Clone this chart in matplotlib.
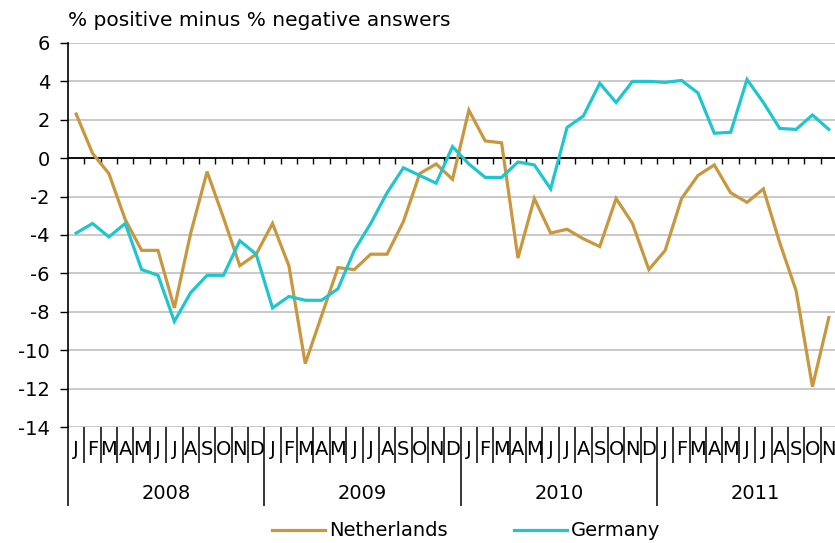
import matplotlib.pyplot as plt

plt.rcParams['font.family'] = ['DejaVu Sans']
plt.rcParams['axes.unicode_minus'] = False

months = ["J", "F", "M", "A", "M", "J", "J", "A", "S", "O", "N", "D"]
years = ["2008", "2009", "2010", "2011"]
n_months = 47  # Jan 2008 .. Nov 2011

netherlands = [2.3, 0.25, -0.8, -3.2, -4.8, -4.8, -7.8, -3.9, -0.7, -3.1, -5.6, -5.0,
               -3.4, -5.6, -10.7, -8.2, -5.7, -5.8, -5.0, -5.0, -3.3, -0.8, -0.3, -1.1,
               2.5, 0.9, 0.8, -5.2, -2.1, -3.9, -3.7, -4.2, -4.6, -2.1, -3.4, -5.8,
               -4.8, -2.1, -0.9, -0.35, -1.8, -2.3, -1.6, -4.4, -6.9, -11.9, -8.3]
germany = [-3.9, -3.4, -4.1, -3.4, -5.8, -6.1, -8.5, -7.0, -6.1, -6.1, -4.3, -5.0,
           -7.8, -7.2, -7.4, -7.4, -6.8, -4.8, -3.4, -1.8, -0.5, -0.9, -1.3, 0.6,
           -0.3, -1.0, -1.0, -0.2, -0.35, -1.6, 1.6, 2.2, 3.9, 2.9, 4.0, 4.0,
           3.95, 4.05, 3.4, 1.3, 1.35, 4.1, 2.9, 1.55, 1.5, 2.25, 1.5]

nl_color = '#c9973e'
de_color = '#1fc6d0'
fs = 14

fig = plt.figure(figsize=(8.35, 5.43), dpi=100)
ax = fig.add_axes([68 / 835, 116 / 543, 769 / 835, 384 / 543])

x = list(range(n_months))
ax.plot(x, netherlands, color=nl_color, lw=2.3, label='Netherlands', solid_joinstyle='miter')
ax.plot(x, germany, color=de_color, lw=2.3, label='Germany', solid_joinstyle='miter')

ax.set_xlim(-0.5, n_months - 0.5)
ax.set_ylim(-14, 6)
ax.set_yticks(range(-14, 7, 2))
ax.yaxis.grid(True, color='#c0c0c0', lw=1.2)
ax.set_axisbelow(True)
ax.set_xticks([])
for s in ['top', 'right', 'bottom']:
    ax.spines[s].set_visible(False)
ax.spines['left'].set_color('black')
ax.spines['left'].set_linewidth(1.2)
ax.tick_params(axis='y', length=6, width=1, labelsize=fs, pad=7)

# zero line with small month ticks
ax.axhline(0, color='black', lw=1.3, zorder=1.5)
ax.vlines([k + 0.5 for k in range(n_months - 1)], -0.3, 0, color='black', lw=1, zorder=1.5)

# category axis below the plot: month letters, month and year separators
for k in range(n_months):
    ax.text(k, -15.15, months[k % 12], ha='center', va='center', fontsize=fs, clip_on=False)
for k in range(n_months + 1):
    bottom = -18.1 if k % 12 == 0 else -15.85
    ax.vlines(k - 0.5, bottom, -14, color='black', lw=1.1, clip_on=False)
for j, yr in enumerate(years):
    ax.text(j * 12 + 5.5, -17.45, yr, ha='center', va='center', fontsize=fs, clip_on=False)

fig.text(68 / 835, 1 - 21 / 543, '% positive minus % negative answers', ha='left', va='center',
         fontsize=14.5)

fig.legend(loc='center', bbox_to_anchor=(466 / 835, 1 - 531 / 543), ncol=2, frameon=False,
           fontsize=fs, handlelength=2.75, columnspacing=3.4, handletextpad=0.2)

fig.savefig('out.png', dpi=100)
